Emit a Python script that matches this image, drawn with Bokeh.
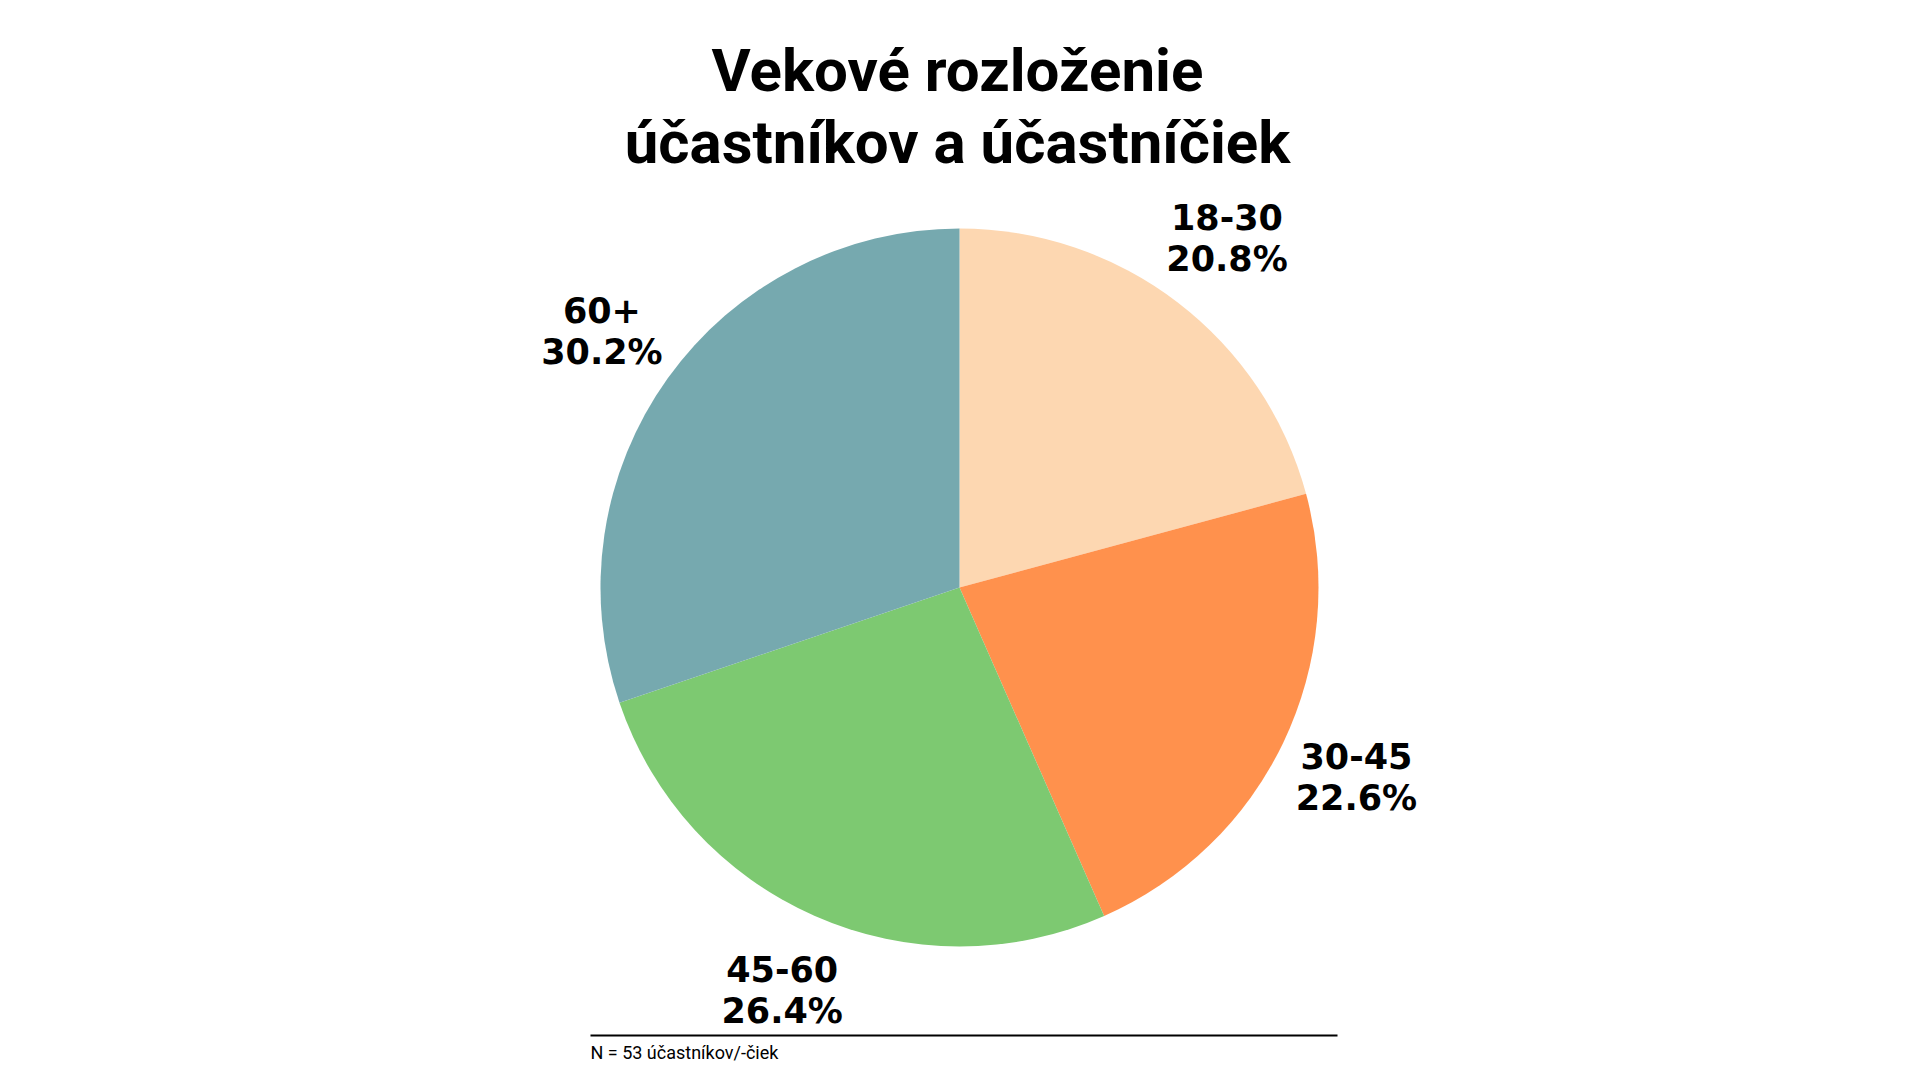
import math
from bokeh.plotting import figure
from bokeh.models import Range1d, ColumnDataSource, Label
from bokeh.core.properties import value
from bokeh.embed import file_html
from bokeh.resources import INLINE

# ---- data ----
categories = ["18-30", "30-45", "45-60", "60+"]
percents = [20.8, 22.6, 26.4, 30.2]
colors = ["#FDD7B1", "#FF914D", "#7DC971", "#76A9AF"]
title_lines = ["Vekové rozloženie", "účastníkov a účastníčiek"]
footnote = "N = 53 účastníkov/-čiek"

W, H = 1904, 1064
p = figure(width=W, height=H, output_backend="svg", toolbar_location=None,
           x_range=Range1d(0, W), y_range=Range1d(0, H),
           min_border=0, outline_line_color=None)
p.axis.visible = False
p.grid.visible = False
p.background_fill_color = "white"
p.border_fill_color = "white"

DX, DY = 7, -7
cx, cy, R, LR = 952 + DX, 484 + DY, 359, 440

starts, ends, mids = [], [], []
acc = 0.0
total = sum(percents)
for v in percents:
    a0 = math.pi / 2 - 2 * math.pi * acc / total
    acc += v
    a1 = math.pi / 2 - 2 * math.pi * acc / total
    starts.append(a0)
    ends.append(a1)
    mids.append((a0 + a1) / 2)

src = ColumnDataSource(dict(
    x=[cx] * len(percents), y=[cy] * len(percents),
    start=starts, end=ends, color=colors,
    lx=[cx + LR * math.cos(m) for m in mids],
    ly=[cy + LR * math.sin(m) for m in mids],
    cat=categories,
    pct=[f"{v:.1f}%" for v in percents],
))

p.wedge(x="x", y="y", radius=R, radius_units="screen", start_angle="start",
        end_angle="end", direction="clock", fill_color="color",
        line_color=None, source=src)

for col, off in (("cat", -21), ("pct", 21)):
    p.text(x="lx", y="ly", text=col, source=src, y_offset=off,
           text_align="center", text_baseline="middle",
           text_font=value("DejaVu Sans"), text_font_style="bold",
           text_font_size="35px", text_color="#000000")

# title
for t, yb in zip(title_lines, (1001 + DY, 929 + DY)):
    p.add_layout(Label(x=950 + DX, y=yb, text=t, text_align="center",
                       text_baseline="alphabetic", text_font="Roboto",
                       text_font_style="bold", text_font_size="60px",
                       text_color="#000000"))

# footnote rule and text
p.segment(x0=[583 + DX], y0=[36 + DY], x1=[1330 + DX], y1=[36 + DY],
          line_color="#000000", line_width=2)
p.add_layout(Label(x=583 + DX, y=19 + DY, text=footnote, text_align="left",
                   text_baseline="middle", text_font="Roboto",
                   text_font_size="18px", text_color="#000000"))

open("out.html", "w").write(file_html(p, INLINE))
